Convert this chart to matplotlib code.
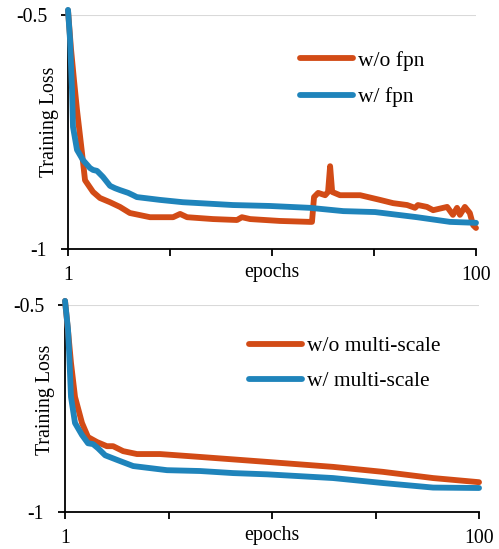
import matplotlib
matplotlib.use("Agg")
import matplotlib.pyplot as plt
import numpy as np

plt.rcParams['font.family'] = ['Liberation Serif', 'DejaVu Serif']

# ---- data: top panel (fpn) ----
ep_fpn_wo = [1.0, 1.7, 2.46, 3.18, 4.40, 5.13, 7.07, 8.76, 11.2, 13.6, 16.0, 20.9,
             26.5, 28.2, 29.9, 36.2, 42.0, 43.2, 45.2, 52.4, 59.7, 60.2, 60.7, 61.7, 63.4,
             64.1, 64.6, 65.1, 67.0, 71.9, 76.7, 79.9, 83.3, 85.2, 85.9, 88.1, 89.6, 93.0, 94.4,
             95.4, 96.1, 97.3, 98.5, 99.3, 100.0]
loss_fpn_wo = [-0.490, -0.570, -0.640, -0.703, -0.795, -0.853, -0.878, -0.891, -0.900,
               -0.910, -0.923, -0.932, -0.932, -0.925, -0.932, -0.936, -0.938,
               -0.932, -0.936, -0.940, -0.942, -0.942, -0.889, -0.880, -0.885, -0.878, -0.823,
               -0.878, -0.885, -0.885, -0.895, -0.902, -0.906, -0.912, -0.906, -0.910, -0.917,
               -0.910, -0.927, -0.912, -0.927, -0.910, -0.923, -0.949, -0.955]

ep_fpn_w = [1.0, 1.49, 1.97, 2.21, 3.18, 4.64, 6.34, 7.07, 8.04, 9.49, 11.2, 12.4, 13.6,
            15.6, 16.8, 17.7, 23.3, 28.9, 33.0, 41.0, 50.0, 59.7, 67.8, 75.5, 85.7, 93.7, 100.0]
loss_fpn_w = [-0.489, -0.553, -0.660, -0.739, -0.788, -0.810, -0.827, -0.831, -0.833, -0.846,
              -0.865, -0.870, -0.874, -0.880, -0.885, -0.889, -0.895, -0.900, -0.902, -0.906,
              -0.908, -0.912, -0.919, -0.921, -0.932, -0.942, -0.944]

# ---- data: bottom panel (multi-scale) ----
ep_ms_wo = [1.0, 1.7, 2.43, 3.39, 5.06, 6.50, 8.65, 11.0, 12.5, 14.9, 18.2, 23.7, 33.3,
            49.3, 65.1, 77.0, 89.0, 100.0]
loss_ms_wo = [-0.490, -0.560, -0.640, -0.722, -0.785, -0.819, -0.831, -0.841, -0.841, -0.853,
              -0.860, -0.860, -0.867, -0.879, -0.891, -0.903, -0.918, -0.928]

ep_ms_w = [1.0, 1.72, 1.96, 2.43, 3.39, 5.06, 6.50, 7.70, 8.89, 10.6, 13.4, 17.3, 25.4,
           33.3, 41.2, 49.3, 65.1, 77.0, 89.0, 100.0]
loss_ms_w = [-0.490, -0.560, -0.609, -0.722, -0.785, -0.814, -0.834, -0.836, -0.846, -0.863,
             -0.874, -0.889, -0.899, -0.901, -0.906, -0.909, -0.918, -0.930, -0.941, -0.942]

labels_top = ['w/o fpn', 'w/ fpn']
labels_bot = ['w/o multi-scale', 'w/ multi-scale']
ytick_vals = [-1, -0.5]
ytick_labels = ['-1', '-0.5']

ORANGE = '#D24B16'
BLUE = '#1F84BB'
FS = 14.3
LFS = 15.5

fig = plt.figure(figsize=(4.99, 5.49), dpi=100)
ax1 = fig.add_axes([0.1363, 0.5464, 0.8176, 0.4262])
ax2 = fig.add_axes([0.1303, 0.0674, 0.8297, 0.3770])


def style(ax, xs_o, ys_o, xs_b, ys_b, labels, leg_anchor, lspace, xlab_y):
    ax.axhline(-0.5, color='#D9D9D9', lw=1.5, zorder=0)
    ax.plot(xs_o, ys_o, color=ORANGE, lw=4.2, solid_capstyle='round',
            solid_joinstyle='round', label=labels[0], clip_on=False, zorder=3)
    ax.plot(xs_b, ys_b, color=BLUE, lw=4.2, solid_capstyle='round',
            solid_joinstyle='round', label=labels[1], clip_on=False, zorder=4)
    ax.set_xlim(1, 100)
    ax.set_ylim(-1, -0.5)
    ax.set_yticks(ytick_vals)
    ax.set_yticklabels(ytick_labels, fontsize=FS)
    ax.set_xticks(np.linspace(1, 100, 5))
    ax.set_xticklabels(['1', '', '', '', '100'], fontsize=FS)
    ax.tick_params(axis='both', direction='out', length=5, width=1.3, color='black')
    ax.tick_params(axis='y', pad=10)
    ax.tick_params(axis='x', pad=7)
    for s in ['top', 'right']:
        ax.spines[s].set_visible(False)
    for s in ['left', 'bottom']:
        ax.spines[s].set_linewidth(1.3)
    ax.set_ylabel('Training Loss', fontsize=FS)
    ax.yaxis.set_label_coords(-0.023, 0.543)
    ax.set_xlabel('epochs', fontsize=FS)
    ax.xaxis.set_label_coords(0.5, xlab_y)
    leg = ax.legend(loc='upper left', bbox_to_anchor=leg_anchor, frameon=False,
                    fontsize=LFS, handlelength=2.47, handletextpad=0.23,
                    labelspacing=lspace, borderaxespad=0)
    return leg


style(ax1, ep_fpn_wo, loss_fpn_wo, ep_fpn_w, loss_fpn_w, labels_top, (0.548, 0.885), 0.78, -0.06)
style(ax2, ep_ms_wo, loss_ms_wo, ep_ms_w, loss_ms_w, labels_bot, (0.423, 0.89), 0.68, -0.07)

fig.savefig('out.png', dpi=100)
